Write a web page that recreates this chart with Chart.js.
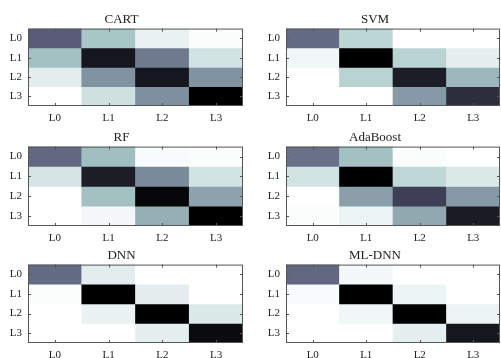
<!DOCTYPE html>
<html>
<head>
<meta charset="utf-8">
<script src="https://cdn.jsdelivr.net/npm/chart.js@4/dist/chart.umd.min.js"></script>
<style>
  body { margin: 0; background: #fff; }
  #wrap { position: relative; width: 501px; height: 358px; overflow: hidden; background: #fff; }
  #wrap canvas { position: absolute; }
</style>
</head>
<body>
<div id="wrap"></div>
<script>
// class labels
const rowLabels = ['L0', 'L1', 'L2', 'L3']
const colLabels = ['L0', 'L1', 'L2', 'L3']

// normalised confusion matrices (1 = darkest)
const cart = [
  [0.60, 0.25, 0.06, 0.01],
  [0.27, 0.90, 0.50, 0.13],
  [0.08, 0.42, 0.90, 0.42],
  [0.00, 0.14, 0.43, 1.00]
]
const svm = [
  [0.55, 0.19, 0.00, 0.00],
  [0.04, 1.00, 0.20, 0.07],
  [0.00, 0.20, 0.87, 0.30],
  [0.00, 0.00, 0.40, 0.80]
]
const rf = [
  [0.56, 0.28, 0.02, 0.01],
  [0.12, 0.87, 0.45, 0.13],
  [0.00, 0.27, 0.97, 0.37],
  [0.00, 0.03, 0.33, 1.00]
]
const adaboost = [
  [0.53, 0.27, 0.01, 0.00],
  [0.13, 1.00, 0.18, 0.10],
  [0.00, 0.38, 0.72, 0.40],
  [0.01, 0.05, 0.35, 0.88]
]
const dnn = [
  [0.55, 0.08, 0.00, 0.00],
  [0.01, 1.00, 0.08, 0.00],
  [0.00, 0.06, 1.00, 0.10],
  [0.00, 0.00, 0.07, 0.95]
]
const mldnn = [
  [0.56, 0.03, 0.00, 0.00],
  [0.02, 1.00, 0.05, 0.00],
  [0.00, 0.04, 1.00, 0.05],
  [0.00, 0.00, 0.07, 0.90]
]

const models = ['CART', 'SVM', 'RF', 'AdaBoost', 'DNN', 'ML-DNN']
const matrices = [cart, svm, rf, adaboost, dnn, mldnn]

// matlab-ish bone colormap
const clamp = v => Math.max(0, Math.min(1, v))
function bone(x) {
  const hr = clamp(x * 8 / 3)
  const hg = clamp(x * 8 / 3 - 1)
  const hb = clamp(x * 4 - 3)
  const r = Math.round(255 * (7 * x + hb) / 8)
  const g = Math.round(255 * (7 * x + hg) / 8)
  const b = Math.round(255 * (7 * x + hr) / 8)
  return `rgb(${r},${g},${b})`
}

const font = { family: 'Liberation Serif', size: 11 }
const textColor = '#222'

// axes box with small inward ticks
const boxPlugin = {
  id: 'box',
  afterDatasetsDraw(chart) {
    const { ctx, chartArea: a, scales } = chart
    ctx.save()
    ctx.strokeStyle = '#555'
    ctx.lineWidth = 1
    ctx.strokeRect(a.left + 0.5, a.top + 0.5, a.right - a.left - 1, a.bottom - a.top - 1)
    ctx.beginPath()
    scales.x.ticks.forEach((t, i) => {
      const px = Math.round(scales.x.getPixelForTick(i)) + 0.5
      ctx.moveTo(px, a.top); ctx.lineTo(px, a.top + 3)
      ctx.moveTo(px, a.bottom); ctx.lineTo(px, a.bottom - 3)
    })
    scales.y.ticks.forEach(t => {
      const py = Math.round(scales.y.getPixelForValue(t.value)) + 0.5
      ctx.moveTo(a.left, py); ctx.lineTo(a.left + 3, py)
      ctx.moveTo(a.right, py); ctx.lineTo(a.right - 3, py)
    })
    ctx.stroke()
    ctx.restore()
  }
}

// panel placement
const cols = [
  { left: 0, width: 250, yw: 28, pr: 7 },
  { left: 250, width: 251, yw: 36, pr: 1 }
]
const rows = [
  { top: 0, height: 124, titleTop: 12, xh: 18 },
  { top: 120, height: 124, titleTop: 10, xh: 18 },
  { top: 240, height: 118, titleTop: 8, xh: 15 }
]

const wrap = document.getElementById('wrap')

models.forEach((name, k) => {
  const c = cols[k % 2]
  const r = rows[Math.floor(k / 2)]
  const m = matrices[k]

  const canvas = document.createElement('canvas')
  canvas.width = c.width
  canvas.height = r.height
  canvas.style.left = c.left + 'px'
  canvas.style.top = r.top + 'px'
  wrap.appendChild(canvas)

  const datasets = rowLabels.map((_, ri) => ({
    data: colLabels.map(() => [ri - 0.5, ri + 0.5]),
    backgroundColor: m[ri].map(v => bone(1 - v)),
    borderWidth: 0,
    grouped: false,
    barPercentage: 1,
    categoryPercentage: 1
  }))

  new Chart(canvas, {
    type: 'bar',
    data: { labels: colLabels, datasets },
    plugins: [boxPlugin],
    options: {
      responsive: false,
      animation: false,
      layout: { padding: { left: 0, right: c.pr, top: 0, bottom: 0 } },
      plugins: {
        legend: { display: false },
        tooltip: { enabled: false },
        title: {
          display: true,
          text: name,
          color: textColor,
          font: { family: 'Liberation Serif', size: 13, weight: 'normal' },
          padding: { top: r.titleTop, bottom: 1 }
        }
      },
      scales: {
        x: {
          type: 'category',
          offset: true,
          grid: { display: false, drawTicks: false },
          border: { display: false },
          ticks: { color: textColor, font, padding: 6, maxRotation: 0 },
          afterFit: s => { s.height = r.xh }
        },
        y: {
          type: 'linear',
          min: -0.5,
          max: 3.5,
          reverse: true,
          grid: { display: false, drawTicks: false },
          border: { display: false },
          afterBuildTicks: s => { s.ticks = rowLabels.map((_, i) => ({ value: i })) },
          ticks: { color: textColor, font, padding: 6, callback: v => rowLabels[v] },
          afterFit: s => { s.width = c.yw }
        }
      }
    }
  })
})
</script>
</body>
</html>
